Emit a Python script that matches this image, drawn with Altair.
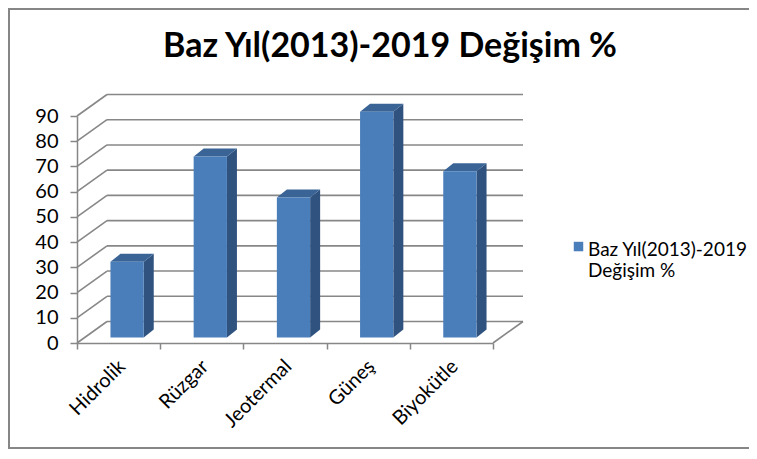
import altair as alt
import pandas as pd

# ---- data ----
categories = ["Hidrolik", "Rüzgar", "Jeotermal", "Güneş", "Biyokütle"]
values = [30.0, 71.8, 55.5, 89.5, 65.9]
y_ticks = [0, 10, 20, 30, 40, 50, 60, 70, 80, 90]
series_name = "Baz Yıl(2013)-2019 Değişim %"
chart_title = "Baz Yıl(2013)-2019 Değişim %"

# ---- layout / style constants ----
W, H = 416, 227
N = len(categories)
YMAX = 90
ux = N / W          # data units per pixel (x)
uy = YMAX / H       # data units per pixel (y)
WALL_DX, WALL_DY = 30, 21.5     # depth of the back wall (px)
BAR_DX, BAR_DY = 8.5, 5.5       # shift of bar front plane (px)
DEP_DX, DEP_DY = 10, 8          # depth of bars (px)
HALF = 0.2                      # half bar width (category units)

GRID = "#878787"
FRONT = "#4A7EBB"
SIDE = "#30527F"
TOP = "#3B6496"
FONT = "Lato"
FS = 19

# ---- derived tables ----
back = pd.DataFrame({
    "x": [WALL_DX * ux] * len(y_ticks),
    "x2": [N + WALL_DX * ux] * len(y_ticks),
    "y": [t + WALL_DY * uy for t in y_ticks],
})
slants = pd.DataFrame({
    "x": [0.0] * len(y_ticks) + [float(N)],
    "x2": [WALL_DX * ux] * len(y_ticks) + [N + WALL_DX * ux],
    "y": [float(t) for t in y_ticks] + [0.0],
    "y2": [t + WALL_DY * uy for t in y_ticks] + [WALL_DY * uy],
})

sx, sy = BAR_DX * ux, BAR_DY * uy
dx, dy = DEP_DX * ux, DEP_DY * uy
front_rows, side_rows, top_rows = [], [], []
for i, (c, v) in enumerate(zip(categories, values)):
    cx = i + 0.5
    front_rows.append({"cat": c, "series": series_name,
                       "x": cx - HALF + sx, "x2": cx + HALF + sx,
                       "y": sy, "y2": v + sy})
    side_rows.append({"cat": c, "x": cx + HALF + sx, "y": v + sy, "y2": sy})
    side_rows.append({"cat": c, "x": cx + HALF + sx + dx, "y": v + sy + dy, "y2": sy + dy})
    top_rows.append({"cat": c, "y": v + sy, "x": cx - HALF + sx, "x2": cx + HALF + sx})
    top_rows.append({"cat": c, "y": v + sy + dy, "x": cx - HALF + sx + dx, "x2": cx + HALF + sx + dx})
front = pd.DataFrame(front_rows)
side = pd.DataFrame(side_rows)
top = pd.DataFrame(top_rows)
cats = pd.DataFrame({"cat": categories, "zero": [0] * N})

xs = alt.Scale(domain=[0, N], nice=False, zero=False)
ys = alt.Scale(domain=[0, YMAX], nice=False)
yaxis = alt.Axis(values=y_ticks, grid=False, domainColor=GRID, domainWidth=1.5,
                 tickColor=GRID, tickWidth=1.5, tickSize=7, labelPadding=12,
                 labelOverlap=False,
                 labelFont=FONT, labelFontSize=20, labelColor="black", title=None)

back_layer = alt.Chart(back).mark_rule(color=GRID, strokeWidth=1.6).encode(
    x=alt.X("x:Q", scale=xs, axis=None), x2="x2:Q",
    y=alt.Y("y:Q", scale=ys, axis=yaxis), y2="y:Q")
slant_layer = alt.Chart(slants).mark_rule(color=GRID, strokeWidth=1.6).encode(
    x=alt.X("x:Q", scale=xs, axis=None), x2="x2:Q",
    y=alt.Y("y:Q", scale=ys, axis=yaxis), y2="y2:Q")
side_layer = alt.Chart(side).mark_area(color=SIDE, orient="vertical").encode(
    x=alt.X("x:Q", scale=xs, axis=None),
    y=alt.Y("y:Q", scale=ys, stack=None, axis=yaxis), y2="y2:Q", detail="cat:N")
top_layer = alt.Chart(top).mark_area(color=TOP, orient="horizontal").encode(
    y=alt.Y("y:Q", scale=ys, stack=None, axis=yaxis),
    x=alt.X("x:Q", scale=xs, axis=None), x2="x2:Q", detail="cat:N")
k = series_name.rfind(" ", 0, 20)
front_layer = alt.Chart(front).mark_rect().encode(
    x=alt.X("x:Q", scale=xs, axis=None), x2="x2:Q",
    y=alt.Y("y:Q", scale=ys, axis=yaxis), y2="y2:Q",
    color=alt.Color("series:N", scale=alt.Scale(range=[FRONT]),
                    legend=alt.Legend(orient="none", legendX=492, legendY=115,
                                      title=None, symbolType="M-1,0.27H1V2.27H-1Z", symbolSize=90,
                                      symbolStrokeWidth=0, padding=0,
                                      labelFont=FONT, labelFontSize=FS, labelColor="black",
                                      labelBaseline="top", labelOffset=0, labelLimit=300,
                                      labelExpr=f"[slice(datum.label, 0, {k}), slice(datum.label, {k + 1})]")))
xaxis_layer = alt.Chart(cats).mark_point(opacity=0).encode(
    x=alt.X("cat:N", sort=categories,
            scale=alt.Scale(paddingInner=0, paddingOuter=0),
            axis=alt.Axis(title=None, tickBand="extent", domainColor=GRID, domainWidth=1.5,
                          tickColor=GRID, tickWidth=1.5, tickSize=6, labelAngle=-45,
                          labelAlign="right", labelBaseline="middle", labelPadding=14,
                          labelOffset=3,
                          labelFont=FONT, labelFontSize=20, labelColor="black")),
    y=alt.Y("zero:Q", scale=ys, axis=yaxis))
border = alt.Chart(cats).mark_rect(fill=None, stroke="#868686", strokeWidth=2).encode(
    x=alt.value(-68), x2=alt.value(W + 300), y=alt.value(-107), y2=alt.value(H + 105))

chart = alt.layer(border, back_layer, slant_layer, side_layer, top_layer, front_layer, xaxis_layer).resolve_scale(
    x="independent").properties(
    width=W, height=H,
    autosize=alt.AutoSizeParams(type="none"),
    padding={"left": 69, "top": 108, "right": 256, "bottom": 106},
    title=alt.TitleParams(chart_title, font=FONT, fontSize=34, fontWeight="bold", color="black",
                          anchor="middle", frame="group", dx=105, offset=-56),
).configure_view(stroke=None)

chart.save("out.html", embed_options={"renderer": "svg", "actions": False})
